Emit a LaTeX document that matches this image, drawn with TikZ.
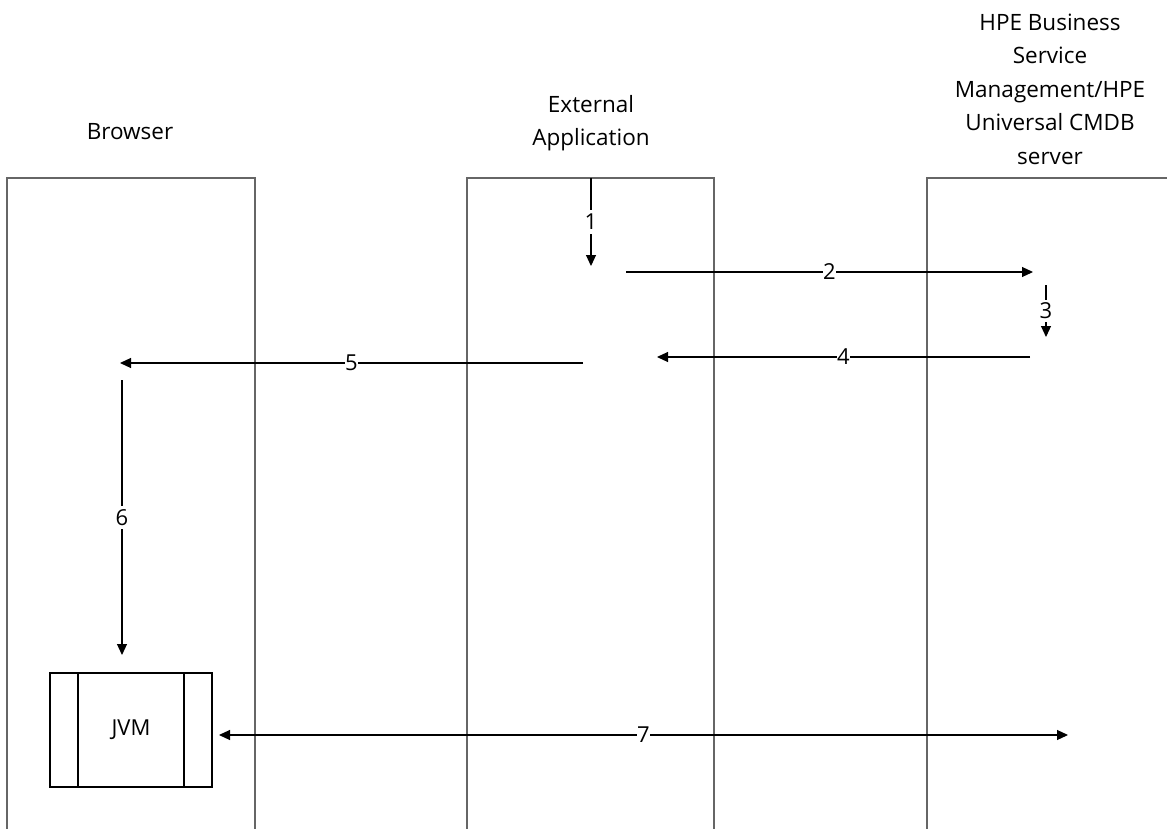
\documentclass[tikz,border=0pt]{standalone}
\usepackage{fontspec}
\setmainfont{Open Sans}
\usetikzlibrary{arrows.meta}
\begin{document}
\begin{tikzpicture}[x=1pt,y=-1pt,
  lane/.style={draw=black!60,line width=1.8pt},
  msg/.style={draw=black,line width=1.1pt,-{Triangle[length=11pt,width=10pt]}},
  lbl/.style={fill=white,inner sep=2pt,font=\fontsize{22}{27}\selectfont},
  title/.style={align=center,font=\fontsize{22.5}{33.5}\selectfont}]
\useasboundingbox (0,0) rectangle (1167,829);
% lanes
\draw[lane] (7,829) -- (7,178) -- (255,178) -- (255,829);
\draw[lane] (467,829) -- (467,178) -- (714,178) -- (714,829);
\draw[lane] (927,829) -- (927,178) -- (1170,178);
% titles
\node[title] (tb) at (130,132) {Browser};
\node[title] (te) at (591,123) {External\\Application};
\node[title] (th) at (1050,89) {HPE Business\\Service\\Management/HPE\\Universal CMDB\\server};
% JVM
\node[draw=black,line width=1.1pt,minimum width=162pt,minimum height=114pt,inner sep=0pt,font=\fontsize{22}{27}\selectfont] (jvm) at (131,730) {JVM};
\draw[line width=1.1pt] (78,673) -- (78,787) (184,673) -- (184,787);
% coordinates
\coordinate (a1s) at (591,178); \coordinate (a1e) at (591,266);
\coordinate (a2s) at (626,272); \coordinate (a2e) at (1033,272);
\coordinate (a3s) at (1046,285); \coordinate (a3e) at (1046,337);
\coordinate (a4s) at (1030,357); \coordinate (a4e) at (657,357);
\coordinate (a5s) at (583,363); \coordinate (a5e) at (120,363);
\coordinate (a6s) at (122,380); \coordinate (a6e) at (122,655);
\coordinate (a7s) at (219,735); \coordinate (a7e) at (1068,735);
% messages
\draw[msg] (a1s) -- node[lbl,inner sep=4pt] (l1) {1} (a1e);
\draw[msg] (a2s) -- node[lbl,inner sep=0pt] (l2) {2} (a2e);
\draw[msg] (a3s) -- node[lbl,inner sep=3pt] (l3) {3} (a3e);
\draw[msg] (a4s) -- node[lbl,inner sep=0pt,pos=0.5] (l4) {4} (a4e);
\draw[msg] (a5s) -- node[lbl,inner sep=0pt,pos=0.5] (l5) {5} (a5e);
\draw[msg] (a6s) -- node[lbl,inner sep=3pt] (l6) {6} (a6e);
\draw[msg,{Triangle[length=11pt,width=10pt]}-{Triangle[length=11pt,width=10pt]}] (a7s) -- node[lbl,inner sep=0pt,pos=0.5] (l7) {7} (a7e);
\end{tikzpicture}
\end{document}
